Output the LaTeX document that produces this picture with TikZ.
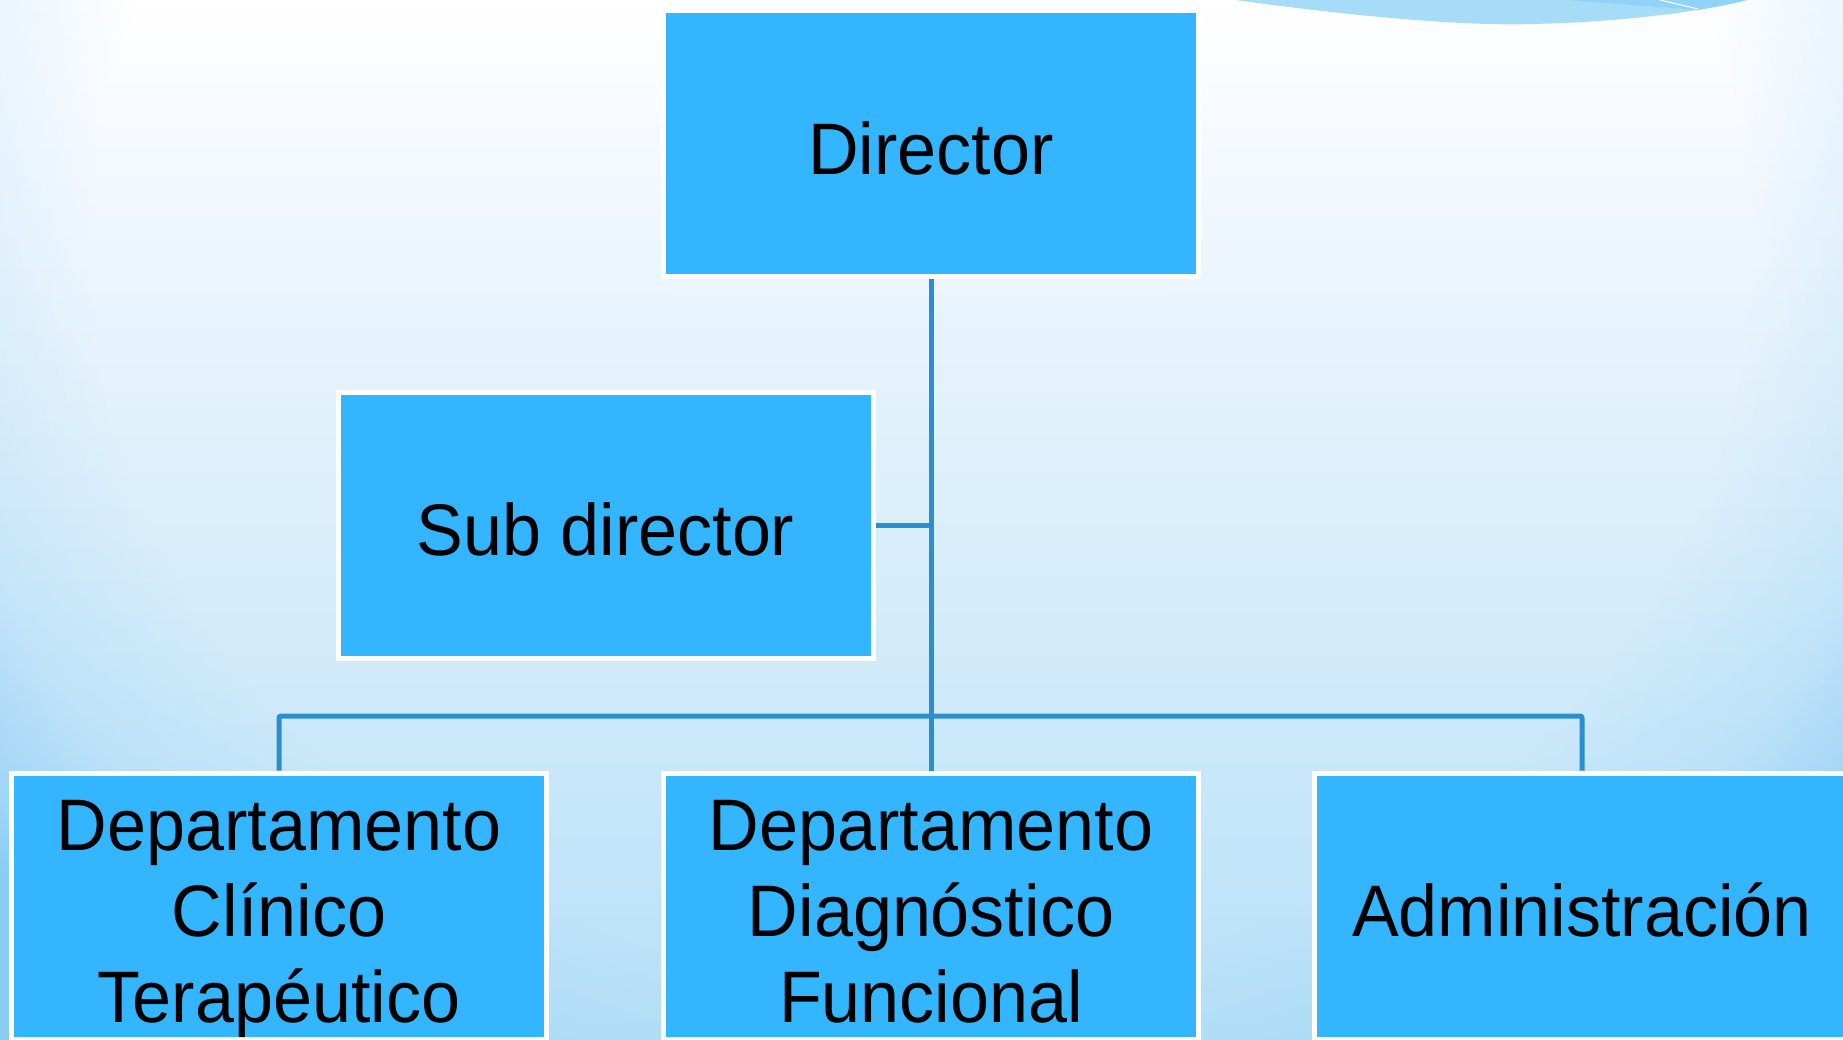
\documentclass[tikz,border=0pt]{standalone}
\usepackage{fontspec}
\setmainfont{Liberation Sans}[FakeStretch=0.96]
\usetikzlibrary{backgrounds,fadings}
\definecolor{boxfill}{RGB}{51,181,255}
\definecolor{linecol}{RGB}{42,143,204}
\definecolor{vA}{RGB}{248,251,255}
\definecolor{vB}{RGB}{232,244,253}
\definecolor{vC}{RGB}{205,233,250}
\definecolor{vD}{RGB}{182,224,248}
\definecolor{edgecol}{RGB}{140,205,244}
\definecolor{wavea}{RGB}{166,220,248}
\definecolor{waveb}{RGB}{144,211,248}
\pgfdeclareverticalshading{vbg}{100bp}{%
  color(0bp)=(vD); color(25bp)=(vD); color(41bp)=(vC); color(60bp)=(vB);
  color(70bp)=(vA); color(75bp)=(white); color(100bp)=(white)}
\pgfdeclareradialshading{edgefadeshade}{\pgfpoint{0bp}{0bp}}{%
  color(0bp)=(black); color(18bp)=(black); color(21.5bp)=(black!78);
  color(24bp)=(black!35); color(25bp)=(white); color(50bp)=(white)}
\pgfdeclarefading{edgefade}{\pgfuseshading{edgefadeshade}}
\newcommand{\boxtext}[1]{\raisebox{-13pt}[\height][\depth]{\begin{tabular}{@{}c@{}}#1\end{tabular}}}
\tikzset{
  orgbox/.style={rectangle, draw=white, line width=5pt, fill=boxfill,
    minimum width=535pt, minimum height=266pt, inner sep=0pt, align=center,
    font=\fontsize{73}{86}\selectfont, text=black},
  conn/.style={draw=linecol, line width=5pt}
}
\begin{document}
\begin{tikzpicture}[x=1pt,y=-1pt]
\useasboundingbox (0,0) rectangle (1843,1040);
% nodes
\node[orgbox] (dir) at (931,144) {\boxtext{Director}};
\node[orgbox] (sub) at (605.5,525.5) {\boxtext{Sub director}};
\node[orgbox] (b1) at (279,906) {\boxtext{Departamento\\Clínico\\Terapéutico}};
\node[orgbox] (b2) at (931,906) {\boxtext{Departamento\\Diagnóstico\\Funcional}};
\node[orgbox] (b3) at (1582,906) {\boxtext{Administración}};
\coordinate (bus) at (931,716);
\begin{scope}[on background layer]
  % background
  \shade[shading=vbg] (0,0) rectangle (1843,1040);
  \begin{scope}
    \clip (0,0) rectangle (1843,1040);
    \fill[edgecol, path fading=edgefade, fit fading=true]
      (920,250) ellipse [x radius=1150, y radius=1020];
    \fill[edgecol, even odd rule] (-10,-10) rectangle (1853,1050)
      (920,250) ellipse [x radius=1150, y radius=1020];
  \end{scope}
  % wave at top right
  \fill[wavea] (1236,0) .. controls (1380,20) and (1480,26) .. (1534,24)
     .. controls (1620,22) and (1700,12) .. (1747,0) -- cycle;
  \fill[waveb] (1565,0) -- (1698,10) .. controls (1720,6) and (1735,3) .. (1747,0) -- cycle;
  \draw[white, line width=1pt] (1660,0) -- (1698,9);
  % connectors
  \draw[conn] (dir.south) -- (b2.north);
  \draw[conn] (sub.east) -- (sub.east -| dir.south);
  \draw[conn, rounded corners=2pt] (b1.north) -- (b1.north |- bus) -- (b3.north |- bus) -- (b3.north);
\end{scope}
\end{tikzpicture}
\end{document}
